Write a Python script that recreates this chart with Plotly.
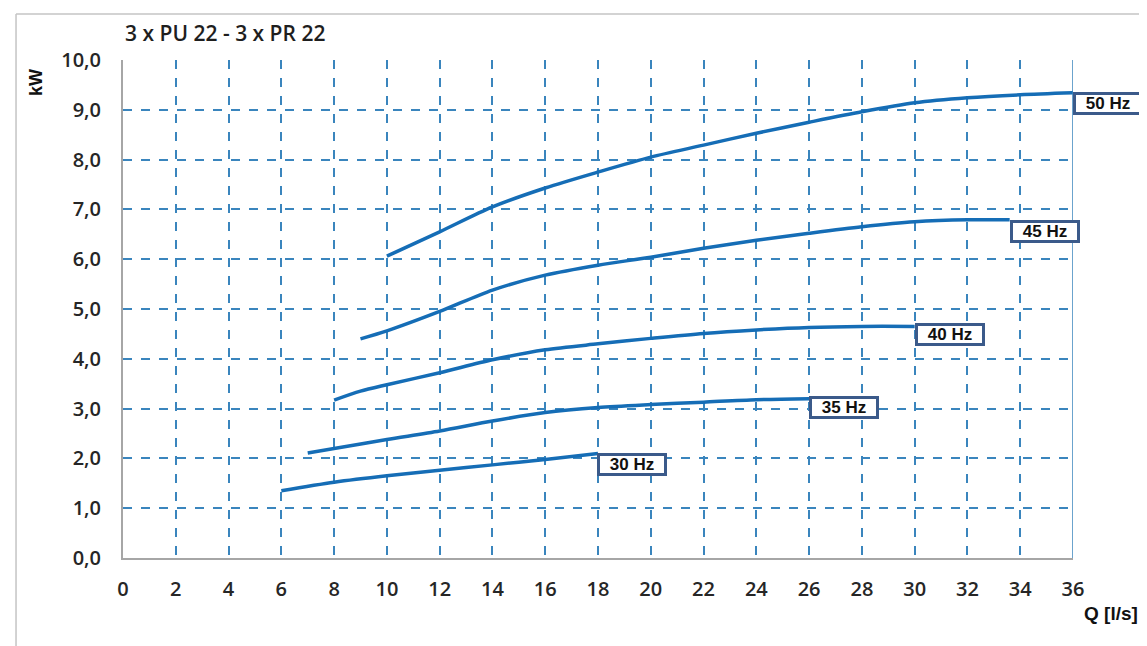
import plotly.graph_objects as go

q30 = [6, 8, 10, 12, 14, 16, 18]
p30 = [1.35, 1.52, 1.65, 1.76, 1.87, 1.98, 2.10]

q35 = [7, 8, 10, 12, 14, 16, 18, 20, 22, 24, 26]
p35 = [2.11, 2.20, 2.38, 2.55, 2.75, 2.92, 3.02, 3.08, 3.13, 3.18, 3.20]

q40 = [8, 9, 10, 12, 14, 16, 18, 20, 22, 24, 26, 28, 30]
p40 = [3.17, 3.35, 3.48, 3.72, 3.98, 4.18, 4.30, 4.41, 4.51, 4.58, 4.63, 4.65, 4.65]

q45 = [9, 10, 12, 14, 16, 18, 20, 22, 24, 26, 28, 30, 32, 33.6]
p45 = [4.40, 4.56, 4.95, 5.38, 5.68, 5.88, 6.04, 6.22, 6.38, 6.52, 6.65, 6.75, 6.79, 6.79]

q50 = [10, 12, 14, 16, 18, 20, 22, 24, 26, 28, 30, 32, 34, 36]
p50 = [6.06, 6.55, 7.05, 7.43, 7.75, 8.05, 8.29, 8.53, 8.75, 8.96, 9.14, 9.24, 9.30, 9.34]

series = [("30 Hz", q30, p30), ("35 Hz", q35, p35), ("40 Hz", q40, p40),
          ("45 Hz", q45, p45), ("50 Hz", q50, p50)]

# label positions (left edge x, centre y) for the frequency boxes
label_x = [17.96, 26.0, 30.0, 33.6, 36.0]
label_y = [1.87, 3.03, 4.48, 6.55, 9.12]

x_ticks = list(range(0, 37, 2))
y_ticks = [i for i in range(0, 11)]

LINE = "#156db6"
GRID = "#3a85bd"

fig = go.Figure()
for name, q, p in series:
    fig.add_trace(go.Scatter(x=q, y=p, mode="lines", name=name,
                             line=dict(color=LINE, width=3.5, shape="spline", smoothing=0.8),
                             showlegend=False, hoverinfo="skip"))

for (name, _, _), lx, ly in zip(series, label_x, label_y):
    fig.add_annotation(x=lx, y=ly, xref="x", yref="y", text="<b>" + name + "</b>",
                       showarrow=False, xanchor="left", yanchor="middle",
                       font=dict(family="Liberation Sans, Arial", size=17, color="#111111"),
                       bgcolor="white", bordercolor="#3b5a8a", borderwidth=3,
                       width=62, height=15, borderpad=1)

# right border of plot area
fig.add_shape(type="line", xref="x", yref="y", x0=36, x1=36, y0=0, y1=10,
              line=dict(color=GRID, width=1.5))
# outer frame (figure spans 115px..1065px horizontally for paper 0..1)
fig.add_shape(type="line", xref="paper", yref="paper", x0=-0.1126, x1=1.09,
              y0=1.0925, y1=1.0925, line=dict(color="#c4c4c4", width=1.5))
fig.add_shape(type="line", xref="paper", yref="paper", x0=-0.1126, x1=-0.1126,
              y0=-0.2, y1=1.0925, line=dict(color="#c4c4c4", width=1.5))

fig.add_annotation(xref="paper", yref="paper", x=0.0, y=1.022, xanchor="left", yanchor="bottom",
                   text="3 x PU 22 - 3 x PR 22", showarrow=False,
                   font=dict(family="Open Sans", size=21, color="#1e1e1e", weight=600))
fig.add_annotation(xref="paper", yref="paper", x=-0.091, y=0.955, xanchor="center", yanchor="middle",
                   text="<b>kW</b>", textangle=-90, showarrow=False,
                   font=dict(family="Liberation Sans, Arial", size=18, color="#111111"))
fig.add_annotation(xref="paper", yref="paper", x=1.071, y=-0.112, xanchor="right", yanchor="middle",
                   text="<b>Q [l/s]</b>", showarrow=False,
                   font=dict(family="Liberation Sans, Arial", size=19, color="#111111"))

tickfont = dict(family="Open Sans", size=20, color="#262626", weight=600)

fig.update_xaxes(range=[0, 36], tickvals=x_ticks, ticktext=[str(v) for v in x_ticks],
                 showgrid=True, gridcolor=GRID, gridwidth=1.5, griddash="dash",
                 showline=True, linecolor="#a6a6a6", linewidth=2, zeroline=False,
                 ticks="outside", ticklen=12, tickcolor="rgba(0,0,0,0)",
                 tickfont=tickfont)
fig.update_yaxes(range=[0, 10], tickvals=y_ticks, ticktext=[f"{v},0" for v in y_ticks],
                 showgrid=True, gridcolor=GRID, gridwidth=1.5, griddash="dash",
                 showline=True, linecolor="#a6a6a6", linewidth=2, zeroline=False,
                 ticks="outside", ticklen=16, tickcolor="rgba(0,0,0,0)",
                 tickfont=tickfont)

fig.update_layout(width=1139, height=638, plot_bgcolor="white", paper_bgcolor="white",
                  margin=dict(l=115, r=74, t=52, b=88), showlegend=False)

fig.write_html("out.html")
